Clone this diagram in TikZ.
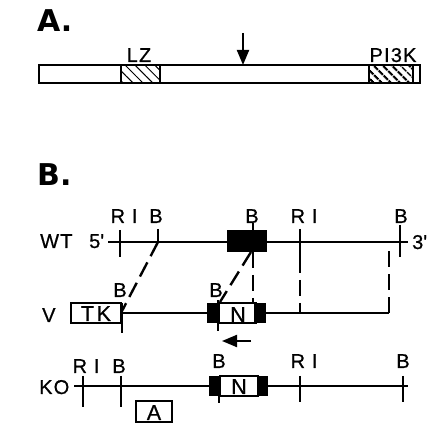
\documentclass[tikz,border=0pt]{standalone}
\usepackage{fontspec}
\setmainfont{Liberation Sans}
\newfontfamily\panelfont{DejaVu Sans}
\usetikzlibrary{positioning,patterns.meta,arrows.meta}

\tikzset{gene/.style={line width=2.8pt}}
\tikzset{cut/.style={line width=2.8pt}}
\tikzset{tie/.style={line width=2.4pt,dash pattern=on 16pt off 7pt}}
\tikzset{lbl/.style={font=\fontsize{20}{20}\selectfont\addfontfeatures{LetterSpace=6,FakeBold=0.6}, inner sep=0pt, anchor=base}}
\tikzset{boxlbl/.style={font=\fontsize{21.5}{21}\selectfont\addfontfeatures{LetterSpace=12,FakeBold=0.6}, inner sep=0pt, anchor=base}}
\tikzset{panel/.style={font=\fontsize{30}{30}\panelfont\bfseries, inner sep=0pt, anchor=base west}}
\tikzset{hatchlz/.style={pattern={Lines[angle=-45,distance=7pt,line width=1pt]}}}
\tikzset{hatchpi/.style={pattern={Lines[angle=-45,distance=6.5pt,line width=2.6pt]}}}
\tikzset{head/.style={line width=2pt,-{Triangle[length=15pt,width=12pt]}}}

\begin{document}
\begin{tikzpicture}[x=1pt,y=-1pt]
\useasboundingbox (0,0) rectangle (440,435);

%% A. protein
\node[panel] (pA) at (37,32) {A.};
\fill[hatchlz] (121,65) rectangle (160,83);
\fill[hatchpi] (369,65) rectangle (413,83);
\draw[gene] (39,65) rectangle (420,83);
\draw[gene] (121,65) -- (121,83) (160,65) -- (160,83) (369,65) -- (369,83) (413,65) -- (413,83);
\node[lbl] (lz) at (139,62) {LZ};
\node[lbl] (pik) at (393,62) {PI3K};
\coordinate (tailA) at (243,33);
\coordinate (tipA) at (243,65);
\draw[head] (tailA) -- (tipA);

%% B. targeting
\node[panel] (pB) at (37,186) {B.};

% WT allele
\node[lbl, anchor=base west] (wt) at (40,248) {WT};
\node[lbl, anchor=base west] (end5) at (89,248) {5\textquotesingle};
\node[lbl, anchor=base west] (end3) at (412,249) {3\textquotesingle};
\coordinate (wtL) at (108,242);
\coordinate (wtR) at (408,242);
\draw[gene] (wtL) -- (wtR);
\fill (227,230) rectangle (267,252);
\foreach \x/\t/\b in {120/230/257, 158/229/242, 253/223/231, 300/229/257, 400/225/257}
	\draw[cut] (\x,\t) -- (\x,\b);
\foreach \x/\s in {124/R I, 156/B, 252/B, 304/R I, 401/B}
	\node[lbl] at (\x,223) {\s};

% vector
\node[lbl, anchor=base west] (v) at (42,322) {V};
\node[draw, gene, minimum width=50pt, minimum height=20pt, inner sep=0pt] (tk) at (96,313) {};
\node[boxlbl] at (96,321) {TK};
\coordinate (vB1) at (122,311);
\coordinate (vEnd) at (389,313);
\draw[gene] (122,313) -- (vEnd);
\fill (207,303) rectangle (266,323);
\node[draw, gene, fill=white, minimum width=37pt, minimum height=20pt, inner sep=0pt] (neoV) at (237,313) {};
\node[boxlbl] at (238,322) {N};
\draw[cut] (122,303) -- (122,333);
\draw[cut] (218,300) -- (218,331);
\node[lbl] at (120,297) {B};
\node[lbl] at (216,297) {B};
\coordinate (arrR) at (251,341);
\coordinate (arrL) at (222,341);
\draw[head] (arrR) -- (arrL);

% homology
\coordinate (wtB1) at (158,242);
\coordinate (wtN) at (251,252);
\coordinate (vB2) at (220,302);
\coordinate (wtNb) at (253,252);
\coordinate (vN) at (253,303);
\coordinate (wtR1) at (300,257);
\coordinate (vR1) at (300,313);
\coordinate (wtE) at (389,248);
\draw[tie] (wtB1) -- (vB1);
\draw[tie] (wtN) -- (vB2);
\draw[tie] (wtNb) -- (vN);
\draw[tie] (wtR1) -- (vR1);
\draw[tie] (vEnd) -- (wtE);

% KO allele
\node[lbl, anchor=base west] (ko) at (39,394) {KO};
\coordinate (koL) at (74,386);
\coordinate (koR) at (408,386);
\draw[gene] (koL) -- (koR);
\fill (209,376) rectangle (268,396);
\node[draw, gene, fill=white, minimum width=38pt, minimum height=20pt, inner sep=0pt] (neoK) at (239,386) {};
\node[boxlbl] at (239,394) {N};
\foreach \x/\t/\b in {83/376/407, 121/376/407, 219/376/403, 300/376/402, 403/376/402}
	\draw[cut] (\x,\t) -- (\x,\b);
\foreach \x/\y/\s in {86/373/R I, 119/373/B, 219/368/B, 304/368/R I, 403/368/B}
	\node[lbl] at (\x,\y) {\s};
\node[draw, gene, minimum width=36pt, minimum height=21pt, inner sep=0pt] (probe) at (154,411.5) {};
\node[boxlbl] at (154,420) {A};
\end{tikzpicture}
\end{document}
